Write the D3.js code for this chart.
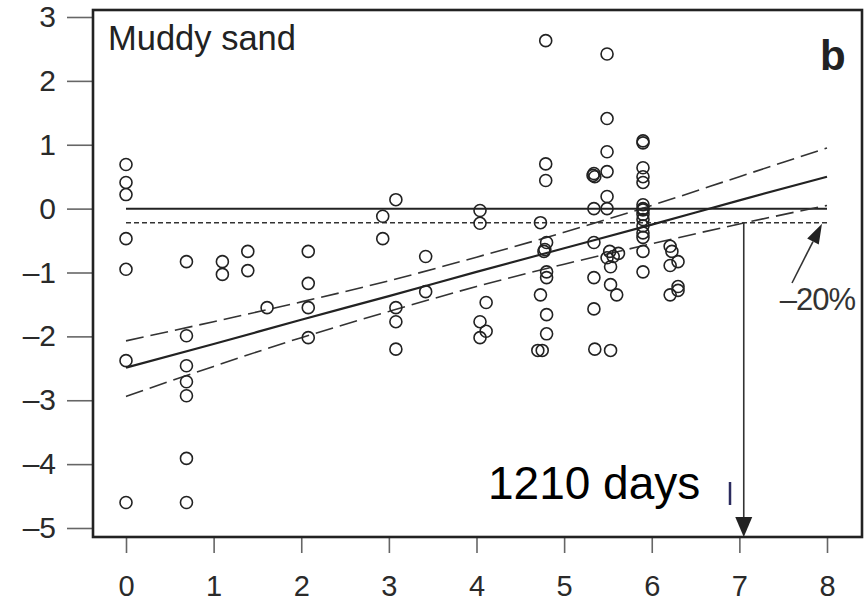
<!DOCTYPE html>
<html>
<head>
<meta charset="utf-8">
<script src="https://cdn.jsdelivr.net/npm/d3@7"></script>
<style>
  body { margin: 0; background: #fff; }
  text { font-family: "Liberation Sans", Arial, sans-serif; }
</style>
</head>
<body>
<div id="chart"></div>
<script>
// ln(time) vs response, muddy sand panel
const ptX = [
  0, 0, 0, 0, 0, 0, 0,
  0.69, 0.69, 0.69, 0.69, 0.69, 0.69, 0.69,
  1.1, 1.1, 1.39, 1.39, 1.61,
  2.08, 2.08, 2.08, 2.08,
  2.93, 2.93, 3.08, 3.08, 3.08, 3.08, 3.42, 3.42,
  4.04, 4.04, 4.04, 4.04, 4.11, 4.11,
  4.7, 4.73, 4.73, 4.75, 4.77, 4.78, 4.79, 4.79, 4.79, 4.8, 4.8, 4.8, 4.8, 4.8,
  5.33, 5.34, 5.34, 5.34, 5.34, 5.34, 5.35, 5.35,
  5.49, 5.49, 5.49, 5.49, 5.49, 5.49, 5.49, 5.52, 5.53, 5.53, 5.53, 5.56, 5.6, 5.62,
  5.9, 5.9, 5.9, 5.9, 5.9, 5.9, 5.9, 5.9, 5.9, 5.9, 5.9, 5.9, 5.9, 5.9, 5.9,
  6.21, 6.23, 6.21, 6.3, 6.21, 6.3, 6.3
];
const ptY = [
  0.69, 0.41, 0.22, -0.47, -0.95, -2.38, -4.6,
  -0.83, -1.99, -2.46, -2.71, -2.93, -3.91, -4.6,
  -0.83, -1.03, -0.67, -0.97, -1.55,
  -0.67, -1.17, -1.55, -2.02,
  -0.12, -0.47, 0.14, -1.55, -1.77, -2.2, -0.75, -1.3,
  -0.03, -0.23, -1.77, -2.02, -1.47, -1.92,
  -2.22, -0.22, -1.35, -2.22, -0.67, -0.64, 2.63, 0.7, 0.44, -0.53, -0.99, -1.08, -1.66, -1.96,
  0.52, 0.55, 0.0, -0.53, -1.08, -1.57, -2.2, 0.5,
  2.42, 1.41, 0.89, 0.58, 0.19, 0.0, -0.77, -0.67, -0.91, -1.19, -2.22, -0.75, -1.35, -0.7,
  1.03, 1.06, 0.64, 0.5, 0.41, 0.06, -0.02, -0.09, -0.17, -0.27, -0.38, -0.45, -0.67, -0.99, 0.0,
  -0.59, -0.67, -0.89, -0.83, -1.35, -1.22, -1.28
];

// fitted line and confidence band, read at integer x
const fitX = [0, 1, 2, 3, 4, 5, 6, 7, 8];
const fitY = [-2.49, -2.12, -1.74, -1.37, -0.99, -0.62, -0.25, 0.13, 0.5];
const upperY = [-2.07, -1.77, -1.46, -1.13, -0.76, -0.37, 0.05, 0.5, 0.95];
const lowerY = [-2.94, -2.47, -2.02, -1.61, -1.22, -0.87, -0.55, -0.24, 0.05];

const threshold = -0.22;    // -20%
const crossX = 7.05;        // 1210 days
const xTicks = [0, 1, 2, 3, 4, 5, 6, 7, 8];
const yTicks = [3, 2, 1, 0, -1, -2, -3, -4, -5];
const yTickLabels = ["3", "2", "1", "0", "\u20131", "\u20132", "\u20133", "\u20134", "\u20135"];

const W = 866, H = 601;
const box = { left: 93, top: 10, right: 862, bottom: 537 };

const svg = d3.select("#chart").append("svg")
  .attr("width", W).attr("height", H);

const x = d3.scaleLinear().domain([0, 8]).range([126, 827]);
const y = d3.scaleLinear().domain([-5, 3]).range([528, 17]);

// axes
const yAxis = d3.axisLeft(y).tickValues(yTicks)
  .tickFormat((d, i) => yTickLabels[i]).tickSize(26).tickPadding(11);
const gy = svg.append("g").attr("transform", `translate(${box.left},0)`).call(yAxis);
gy.select(".domain").remove();

const xAxis = d3.axisBottom(x).tickValues(xTicks).tickSize(16).tickPadding(22);
const gx = svg.append("g").attr("transform", `translate(0,${box.bottom})`).call(xAxis);
gx.select(".domain").remove();

svg.selectAll(".tick line").attr("stroke", "#666").attr("stroke-width", 1.6);
svg.selectAll(".tick text")
  .attr("font-size", 29)
  .attr("fill", "#2a2a2a")
  .attr("font-family", "Liberation Sans, Arial, sans-serif");
gy.selectAll(".tick text").attr("font-size", 30);

// reference lines
svg.append("line")
  .attr("x1", x(0)).attr("x2", x(8)).attr("y1", y(0)).attr("y2", y(0))
  .attr("stroke", "#222").attr("stroke-width", 2);
svg.append("line")
  .attr("x1", x(0)).attr("x2", x(8)).attr("y1", y(threshold)).attr("y2", y(threshold))
  .attr("stroke", "#333").attr("stroke-width", 1.5).attr("stroke-dasharray", "5,3");

// regression + band
const line = d3.line().x((d, i) => x(fitX[i])).y(d => y(d)).curve(d3.curveMonotoneX);
svg.append("path").attr("d", line(fitY))
  .attr("fill", "none").attr("stroke", "#222").attr("stroke-width", 2.2);
[upperY, lowerY].forEach(arr => {
  svg.append("path").attr("d", line(arr))
    .attr("fill", "none").attr("stroke", "#333").attr("stroke-width", 1.6)
    .attr("stroke-dasharray", "18,7");
});

// points
svg.append("g").selectAll("circle")
  .data(ptX)
  .join("circle")
  .attr("cx", d => x(d))
  .attr("cy", (d, i) => y(ptY[i]))
  .attr("r", 6)
  .attr("fill", "none")
  .attr("stroke", "#222")
  .attr("stroke-width", 1.6);

// arrow down to the x axis
svg.append("line")
  .attr("x1", x(crossX)).attr("x2", x(crossX))
  .attr("y1", y(threshold)).attr("y2", box.bottom - 18)
  .attr("stroke", "#333").attr("stroke-width", 1.6);
svg.append("path")
  .attr("d", `M${x(crossX) - 8.5},${box.bottom - 20}L${x(crossX) + 8.5},${box.bottom - 20}L${x(crossX)},${box.bottom}Z`)
  .attr("fill", "#222");

// arrow to the -20% line
const tip = [822, y(threshold) + 1], tail = [792, 283];
const ang = Math.atan2(tip[1] - tail[1], tip[0] - tail[0]);
const hl = 20, hw = 6.5;
const bx = tip[0] - hl * Math.cos(ang), by = tip[1] - hl * Math.sin(ang);
svg.append("line")
  .attr("x1", tail[0]).attr("y1", tail[1]).attr("x2", bx).attr("y2", by)
  .attr("stroke", "#333").attr("stroke-width", 1.6);
svg.append("path")
  .attr("d", `M${tip[0]},${tip[1]}L${bx + hw * Math.sin(ang)},${by - hw * Math.cos(ang)}L${bx - hw * Math.sin(ang)},${by + hw * Math.cos(ang)}Z`)
  .attr("fill", "#222");

// frame
svg.append("rect")
  .attr("x", box.left).attr("y", box.top)
  .attr("width", box.right - box.left).attr("height", box.bottom - box.top)
  .attr("fill", "none").attr("stroke", "#222").attr("stroke-width", 2.6);

// texts
svg.append("text").attr("x", 108).attr("y", 50)
  .attr("font-size", 34.5).attr("fill", "#222").text("Muddy sand");
svg.append("text").attr("x", 820).attr("y", 70)
  .attr("font-size", 42).attr("font-weight", "bold").attr("fill", "#222").text("b");
svg.append("text").attr("x", 855).attr("y", 310).attr("text-anchor", "end")
  .attr("font-size", 31).attr("fill", "#333").attr("letter-spacing", -1).text("\u201320%");
svg.append("text").attr("x", 488).attr("y", 499)
  .attr("font-size", 46).attr("fill", "#000").text("1210 days");
svg.append("line")
  .attr("x1", 730).attr("x2", 730).attr("y1", 482).attr("y2", 505)
  .attr("stroke", "#2b2b5e").attr("stroke-width", 2.5);
</script>
</body>
</html>
